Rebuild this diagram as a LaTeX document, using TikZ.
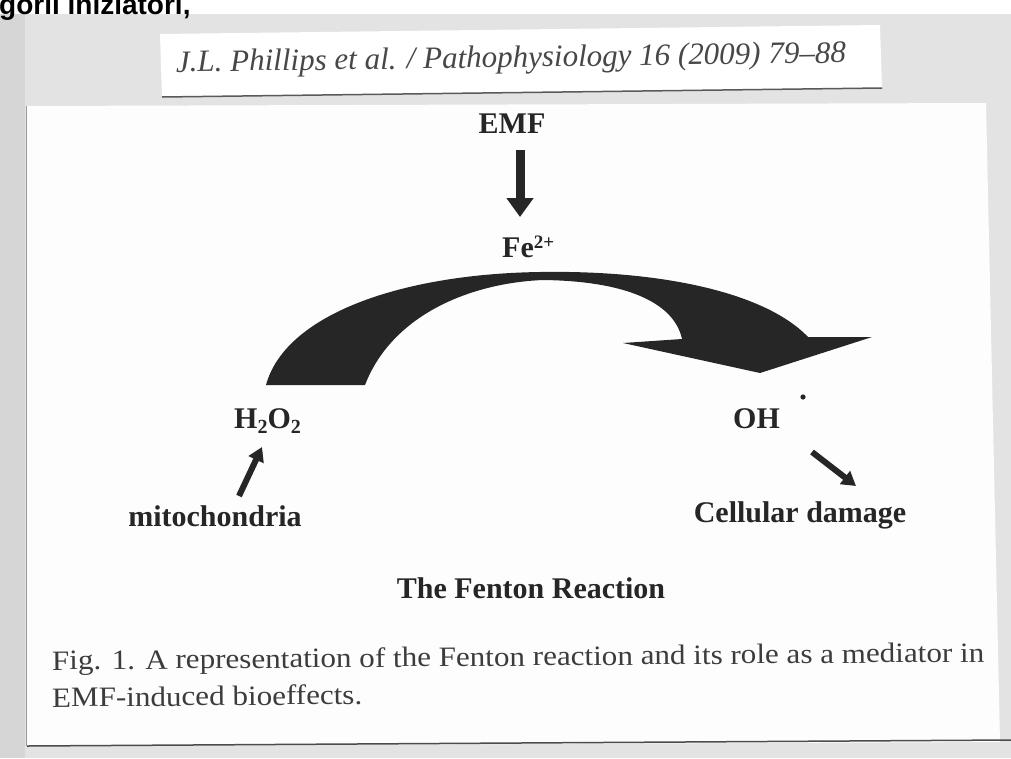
\documentclass[tikz,border=0pt]{standalone}
\usepackage{fontspec}
\setmainfont{Liberation Serif}
\newfontfamily\hdrfont{Liberation Sans}
\usetikzlibrary{arrows.meta}
\definecolor{ink}{HTML}{262626}
\definecolor{scan}{HTML}{E3E3E3}
\definecolor{scandark}{HTML}{D6D6D6}
\definecolor{paper}{HTML}{FDFDFD}
\begin{document}
\begin{tikzpicture}[x=1pt,y=-1pt,
  lbl/.style={inner sep=0pt, text=ink, font=\bfseries\fontsize{30}{30}\selectfont},
  chem/.style={inner sep=0pt, text=ink, font=\bfseries\fontsize{30}{30}\selectfont},
  captext/.style={inner sep=0pt, text=ink!90, font=\fontsize{28}{28}\selectfont},
  fat/.style={draw=ink, line width=6pt, -{Triangle[length=14pt, width=16pt]}},
]
\useasboundingbox (0,0) rectangle (1011,758);
% scanned background
\fill[scan] (0,0) rectangle (1011,758);
\fill[scandark] (0,14) rectangle (25,758);
\fill[white] (0,0) rectangle (1011,14);
% header text (cut at top)
\node[inner sep=0pt, anchor=base west, font=\hdrfont\bfseries\fontsize{28}{28}\selectfont] (hdr) at (-1,14) {gorii iniziatori,};
% label slip
\fill[white] (160,34) -- (880,25) -- (882,88) -- (162,97) -- cycle;
\draw[gray!70!black, line width=1.5pt] (162,97) -- (882,88);
\node[inner sep=0pt, anchor=base west, text=ink!85, rotate=0.8, font=\itshape\fontsize{31}{31}\selectfont] (ref) at (176,72) {J.L. Phillips et al. / Pathophysiology 16 (2009) 79--88};
% main sheet
\fill[paper] (27,106) -- (986,103) -- (1000,742) -- (27,746) -- cycle;
\draw[gray!80, line width=1pt] (26,106) -- (26,746);
\draw[gray!60!black, line width=1.5pt] (27,746) -- (1011,740);
% labels
\node[lbl, anchor=base] (emf) at (512,133) {EMF};
\node[lbl, anchor=base west] (fe) at (502,257) {Fe\raisebox{9pt}{\fontsize{19}{19}\selectfont 2+}};
\node[chem, anchor=base west] (h2o2) at (234,428) {H\raisebox{-5pt}{\fontsize{20}{20}\selectfont 2}O\raisebox{-5pt}{\fontsize{20}{20}\selectfont 2}};
\node[chem, anchor=base west] (oh) at (733,428) {OH};
\fill[ink] (803,397) circle (2.6);
\node[lbl, anchor=base] (mito) at (215,526) {mitochondria};
\node[lbl, anchor=base] (cell) at (800,522) {Cellular damage};
\node[lbl, anchor=base] (fenton) at (531,598) {The Fenton Reaction};
\node[captext, anchor=base west, rotate=0.5] (cap1) at (52,670) {\scalebox{1.11}[1]{Fig. 1. A representation of the Fenton reaction and its role as a mediator in}};
\node[captext, anchor=base west, rotate=0.5] (cap2) at (52,707) {\scalebox{1.11}[1]{EMF-induced bioeffects.}};
% EMF arrow
\coordinate (e1s) at (520,150);
\coordinate (e1e) at (520,217);
\draw[draw=ink, line width=9pt, -{Triangle[length=19pt, width=26pt]}] (e1s) -- (e1e);
% big curved arrow
\fill[ink] (266,385) .. controls (285,315) and (400,274) .. (540,272)
  .. controls (660,270) and (765,292) .. (808,337)
  -- (872,337) -- (760,373) -- (623,343) -- (682,339)
  .. controls (674,302) and (625,281) .. (543,280)
  .. controls (470,283) and (392,315) .. (365,385) -- cycle;
% small arrows
\coordinate (m1) at (239,496);
\coordinate (m2) at (262,447);
\draw[fat] (m1) -- (m2);
\coordinate (c1) at (812,452);
\coordinate (c2) at (856,486);
\draw[fat] (c1) -- (c2);
\end{tikzpicture}
\end{document}
